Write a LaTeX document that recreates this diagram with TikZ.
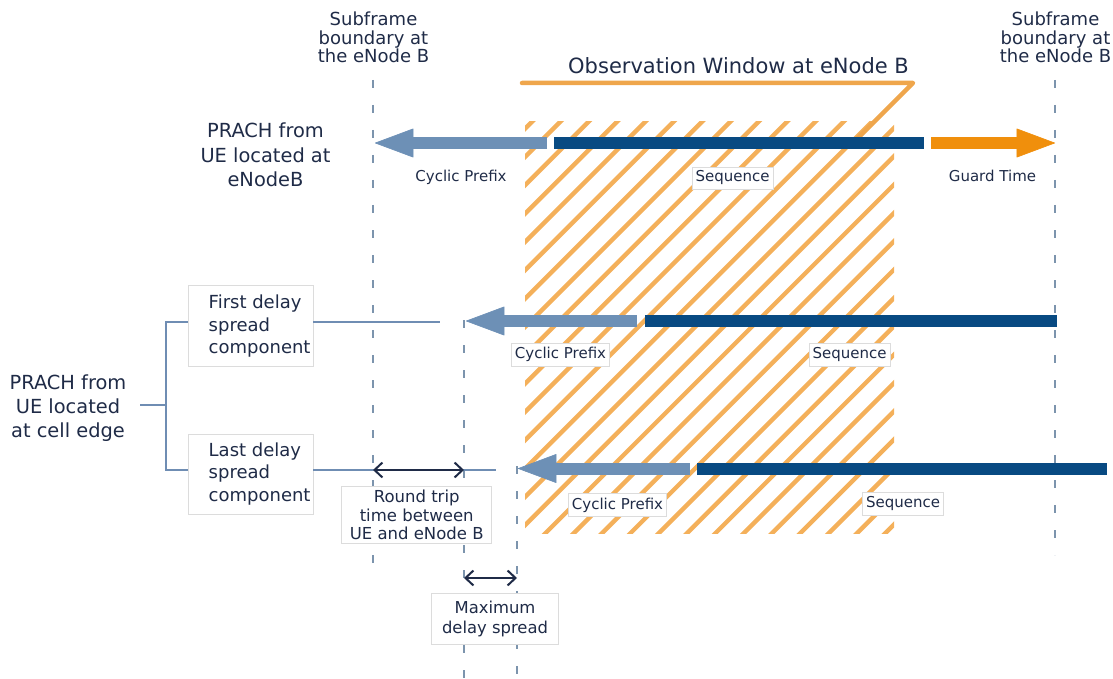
\documentclass[tikz,border=0pt]{standalone}
\usepackage{fontspec}
\setmainfont{DejaVu Sans}
\usetikzlibrary{arrows.meta}
\definecolor{ink}{HTML}{1F2B47}
\definecolor{cpblue}{HTML}{6D90B6}
\definecolor{seqblue}{HTML}{084A82}
\definecolor{guard}{HTML}{F08F0C}
\definecolor{hatchc}{HTML}{F4B05A}
\definecolor{obs}{HTML}{EFA64C}
\definecolor{gridc}{HTML}{7C94AD}
\definecolor{bracec}{HTML}{6F8DB3}
\definecolor{framec}{HTML}{DCDCDC}
\begin{document}
\begin{tikzpicture}[x=1pt,y=-1pt,
  boundary/.style={draw=gridc, line width=2.4pt, dash pattern=on 8pt off 17pt},
  bigtip/.style={-{Triangle[length=39pt,width=29pt,line width=0.6pt,round]}},
  cpbar/.style={draw=cpblue, line width=12pt, bigtip},
  seqbar/.style={draw=seqblue, line width=12pt},
  guardbar/.style={draw=guard, line width=12pt, bigtip},
  hatchline/.style={draw=hatchc, line width=4.4pt},
  brace/.style={draw=bracec, line width=2.4pt},
  span/.style={draw=ink, line width=2pt, {Straight Barb[length=8pt,width=15pt,line width=2pt]}-{Straight Barb[length=8pt,width=15pt,line width=2pt]}},
  txt/.style={text=ink, align=center, inner sep=0pt},
  tag/.style={text=ink, font=\fontsize{15}{18}\selectfont, inner xsep=3.5pt, inner ysep=4pt, text height=11.5pt, text depth=3.5pt},
  tagbox/.style={tag, draw=framec, line width=0.8pt, fill=white},
  framebox/.style={draw=framec, line width=0.8pt, fill=white, inner sep=0pt},
]
\useasboundingbox (0,0) rectangle (1113,679);

% subframe boundaries and delay markers
\coordinate (sfL1) at (373,80);   \coordinate (sfL2) at (373,575);
\coordinate (sfR1) at (1055,80);  \coordinate (sfR2) at (1055,555);
\coordinate (rt1) at (464,320);   \coordinate (rt2) at (464,679);
\coordinate (md1) at (517,466);   \coordinate (md2) at (517,679);
\draw[boundary] (sfL1) -- (sfL2);
\draw[boundary] (sfR1) -- (sfR2);
\draw[boundary] (rt1) -- (rt2);
\draw[boundary] (md1) -- (md2);

% hatched observation window
\begin{scope}
  \clip (525,122) rectangle (894,533);
  \foreach \k in {-2,...,28}{
    \draw[hatchline] ({682+28.33*\k-545},545) -- ({682+28.33*\k-110},110);
  }
\end{scope}
\draw[draw=obs, line width=4.5pt, line cap=round, line join=round]
  (522,83) -- (913,83) -- (857,139);
\node[txt, font=\fontsize{21}{24}\selectfont] (obsT) at (738.5,66) {Observation Window at eNode B};

% headings
\node[txt, font=\fontsize{18}{18.3}\selectfont] (subL) at (373.5,37.5) {Subframe\\boundary at\\the eNode B};
\node[txt, font=\fontsize{18}{18.3}\selectfont] (subR) at (1055.5,37.5) {Subframe\\boundary at\\the eNode B};
\node[txt, font=\fontsize{19.4}{24.5}\selectfont] (ueB) at (265.5,155) {PRACH from\\UE located at\\eNodeB};
\node[txt, font=\fontsize{19.4}{24}\selectfont] (ueEdge) at (68,408) {PRACH from\\UE located\\at cell edge};

% row 1: UE at the eNode B
\coordinate (a1s) at (547,143); \coordinate (a1e) at (375,143);
\coordinate (s1s) at (554,143); \coordinate (s1e) at (924,143);
\coordinate (g1s) at (931,143); \coordinate (g1e) at (1055,143);
\draw[cpbar] (a1s) -- (a1e);
\draw[seqbar] (s1s) -- (s1e);
\draw[guardbar] (g1s) -- (g1e);
\node[tag] (cp1) at (461,178) {Cyclic Prefix};
\node[tagbox, inner ysep=3.5pt] (sq1) at (732.5,178) {Sequence};
\node[tag] (gt1) at (992.5,178) {Guard Time};

% row 2: first delay spread component
\coordinate (a2s) at (637,321); \coordinate (a2e) at (466,321);
\coordinate (s2s) at (645,321); \coordinate (s2e) at (1057,321);
\draw[cpbar] (a2s) -- (a2e);
\draw[seqbar] (s2s) -- (s2e);
\node[tagbox] (cp2) at (560.5,354.5) {Cyclic Prefix};
\node[tagbox] (sq2) at (849.5,354.5) {Sequence};

% row 3: last delay spread component
\coordinate (a3s) at (690,468.5); \coordinate (a3e) at (518,468.5);
\coordinate (s3s) at (697,468.5); \coordinate (s3e) at (1107,468.5);
\draw[cpbar] (a3s) -- (a3e);
\draw[seqbar] (s3s) -- (s3e);
\node[tagbox] (cp3) at (617.5,505) {Cyclic Prefix};
\node[tagbox] (sq3) at (903,503.5) {Sequence};

% delay spread components and bracket
\node[framebox, minimum width=125pt, minimum height=81pt] (first) at (250.5,326.3) {};
\node[txt, align=left, anchor=west, font=\fontsize{18}{22.5}\selectfont] (firstT) at (208.5,326.3) {First delay\\spread\\component};
\node[framebox, minimum width=125pt, minimum height=80pt] (last) at (250.5,474) {};
\node[txt, align=left, anchor=west, font=\fontsize{18}{22.5}\selectfont] (lastT) at (208.5,474) {Last delay\\spread\\component};

\coordinate (f1) at (440,321.7);
\coordinate (l1) at (496,470);
\coordinate (bx) at (165.7,405);
\coordinate (stem) at (140,405);
\draw[brace] (first.east |- f1) -- (f1);
\draw[brace] (last.east |- l1) -- (l1);
\draw[brace] (first.west |- f1) -| (bx) |- (last.west |- l1);
\draw[brace] (stem) -- (bx);

% round trip time and maximum delay spread
\coordinate (rtA) at (373,470); \coordinate (rtB) at (464,470);
\draw[span] (rtA) -- (rtB);
\node[framebox, minimum width=150pt, minimum height=56.6pt, text=ink, align=center,
      font=\fontsize{16.5}{18.5}\selectfont] (rtt) at (416.7,515) {Round trip\\time between\\UE and eNode B};
\coordinate (mdA) at (464,578); \coordinate (mdB) at (517,578);
\draw[span] (mdA) -- (mdB);
\node[framebox, minimum width=126.6pt, minimum height=51pt, text=ink, align=center,
      font=\fontsize{16.4}{20}\selectfont] (mds) at (495,618.5) {Maximum\\delay spread};
\end{tikzpicture}
\end{document}
